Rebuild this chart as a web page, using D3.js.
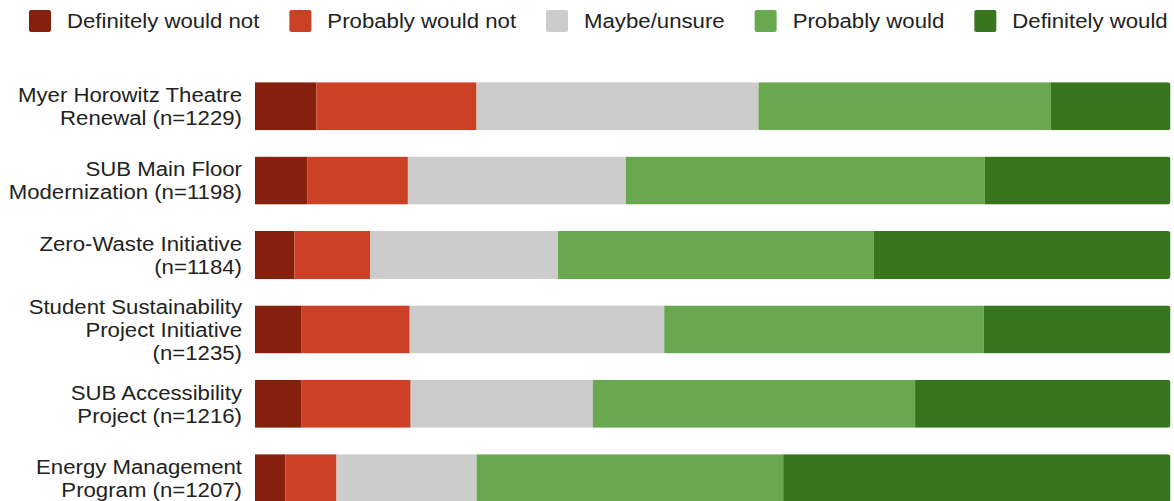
<!DOCTYPE html>
<html>
<head>
<meta charset="utf-8">
<script src="https://cdn.jsdelivr.net/npm/d3@7"></script>
<style>
  body { margin: 0; background: #fff; }
  svg text { font-family: "Liberation Sans", Arial, sans-serif; fill: #222; }
</style>
</head>
<body>
<div id="chart"></div>
<script>
// Survey responses, percent of respondents per answer
let responses = ["Definitely would not", "Probably would not", "Maybe/unsure", "Probably would", "Definitely would"];
let colors = ["#85200c", "#cc4125", "#cccccc", "#6aa84f", "#38761d"];

let projects = [
  "Myer Horowitz Theatre Renewal",
  "SUB Main Floor Modernization",
  "Zero-Waste Initiative",
  "Student Sustainability Project Initiative",
  "SUB Accessibility Project",
  "Energy Management Program"
];
let counts = [1229, 1198, 1184, 1235, 1216, 1207];

// label lines as shown on the axis
let labelLines = [
  ["Myer Horowitz Theatre", "Renewal (n=1229)"],
  ["SUB Main Floor", "Modernization (n=1198)"],
  ["Zero-Waste Initiative", "(n=1184)"],
  ["Student Sustainability", "Project Initiative", "(n=1235)"],
  ["SUB Accessibility", "Project (n=1216)"],
  ["Energy Management", "Program (n=1207)"]
];

let definitelyNot = [6.7, 5.7, 4.3, 5.1, 5.1, 3.3];
let probablyNot   = [17.5, 11.0, 8.3, 11.8, 11.9, 5.6];
let maybe         = [30.8, 23.8, 20.5, 27.8, 19.9, 15.3];
let probably      = [31.9, 39.2, 34.5, 34.9, 35.2, 33.5];
let definitely    = [13.1, 20.3, 32.4, 20.4, 27.9, 42.3];

let width = 1174, height = 501;
let left = 255, right = 1170.5;
let stretch = 1.057; // text in the reference is slightly wide

let rows = projects.map(function(p, i) {
  return {
    project: p,
    n: counts[i],
    lines: labelLines[i],
    "Definitely would not": definitelyNot[i],
    "Probably would not": probablyNot[i],
    "Maybe/unsure": maybe[i],
    "Probably would": probably[i],
    "Definitely would": definitely[i]
  };
});

let x = d3.scaleLinear().domain([0, 100]).range([left, right]);
let y = d3.scaleBand()
  .domain(projects)
  .range([69, 69 + 74.4 * projects.length])
  .paddingInner(26.4 / 74.4)
  .paddingOuter(13.2 / 74.4);
let color = d3.scaleOrdinal().domain(responses).range(colors);

let series = d3.stack().keys(responses).offset(d3.stackOffsetExpand)(rows);

let svg = d3.select("#chart")
  .append("svg")
  .attr("width", width)
  .attr("height", height);

// rounded right end of each bar
let defs = svg.append("defs");
defs.selectAll("clipPath")
  .data(rows)
  .join("clipPath")
  .attr("id", function(d, i) { return "clip" + i; })
  .append("rect")
  .attr("x", x(0) - 10)
  .attr("width", x(100) - x(0) + 10)
  .attr("y", function(d) { return y(d.project); })
  .attr("height", y.bandwidth())
  .attr("rx", 3);

let barRows = svg.append("g")
  .selectAll("g")
  .data(rows)
  .join("g")
  .attr("clip-path", function(d, i) { return "url(#clip" + i + ")"; });

barRows.selectAll("rect")
  .data(function(d, i) {
    return series.map(function(s) {
      return { key: s.key, project: d.project, v: s[i] };
    });
  })
  .join("rect")
  .attr("x", function(d) { return x(d.v[0] * 100); })
  .attr("width", function(d) { return x(d.v[1] * 100) - x(d.v[0] * 100); })
  .attr("y", function(d) { return y(d.project); })
  .attr("height", y.bandwidth())
  .attr("fill", function(d) { return color(d.key); });

// category labels, right aligned, centred on each bar
let lineH = 23;
let labels = svg.append("g")
  .selectAll("text")
  .data(rows)
  .join("text")
  .attr("text-anchor", "end")
  .attr("font-size", 21)
  .attr("transform", function(d) {
    let ty = y(d.project) + y.bandwidth() / 2 - (d.lines.length - 1) * lineH / 2;
    return "translate(242," + ty + ") scale(" + stretch + ",1)";
  });

labels.selectAll("tspan")
  .data(function(d) { return d.lines; })
  .join("tspan")
  .attr("x", 0)
  .attr("dy", function(d, i) { return i === 0 ? "0.35em" : lineH; })
  .text(function(d) { return d; });

// legend
let legend = svg.append("g");
let lx = 29;
responses.forEach(function(r) {
  let item = legend.append("g").attr("transform", "translate(" + lx + ",0)");
  item.append("rect")
    .attr("y", 10)
    .attr("width", 22)
    .attr("height", 22)
    .attr("rx", 2)
    .attr("fill", color(r));
  let t = item.append("text")
    .attr("transform", "translate(38,21) scale(" + stretch + ",1)")
    .attr("dy", "0.35em")
    .attr("font-size", 21)
    .text(r);
  lx += 38 + t.node().getComputedTextLength() * stretch + 30;
});
</script>
</body>
</html>
